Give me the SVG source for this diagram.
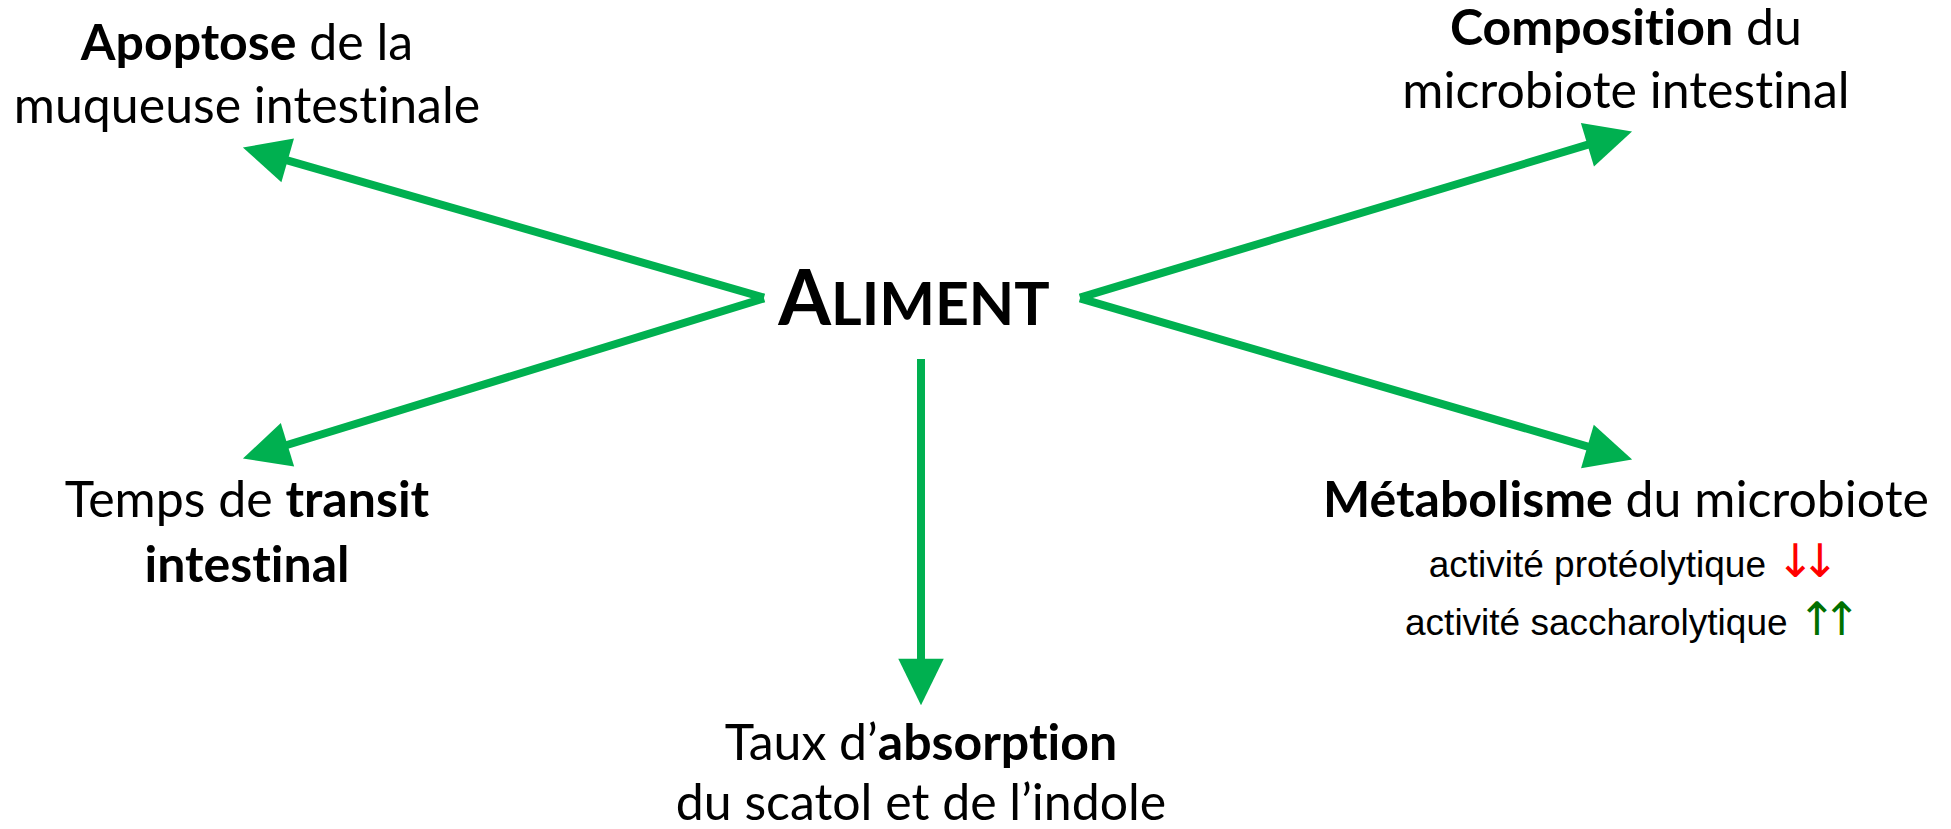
<svg xmlns="http://www.w3.org/2000/svg" width="1951" height="829" viewBox="0 0 1951 829">
<style>
.lbl{font-family:Lato,"Open Sans","Liberation Sans",sans-serif;font-size:50px;fill:#000;text-anchor:middle;font-variant-ligatures:none;font-feature-settings:"liga" 0,"clig" 0}
.b{font-weight:bold}
.sub{font-family:"Liberation Sans",Arial,sans-serif;font-size:37px;fill:#000;text-anchor:middle}
.arr{font-family:"DejaVu Sans","Liberation Sans",sans-serif;font-size:46px;letter-spacing:-14px}
.conn{stroke:#00B050;stroke-width:8;fill:none;marker-end:url(#ah)}
</style>
<defs>
<marker id="ah" markerUnits="userSpaceOnUse" markerWidth="50" markerHeight="50" viewBox="-3 -21 44 42" refX="0" refY="0" orient="auto">
<path d="M-2,-20 L39,0 L-2,20 Z" fill="#00B050"/>
</marker>
</defs>
<rect width="1951" height="829" fill="#fff"/>
<g id="connectors">
<path class="conn" d="M764,297.6 L285.5,159.8"/>
<path class="conn" d="M764,298.4 L285.3,445.5"/>
<path class="conn" d="M1080,297.6 L1589.6,144.2"/>
<path class="conn" d="M1080,298.4 L1589.6,447.1"/>
<path class="conn" d="M921,359 L921,661"/>
</g>
<g id="aliment">
<text class="lbl b" x="914" y="325"><tspan font-size="76">A</tspan><tspan font-size="59">LIMENT</tspan></text>
</g>
<g id="apoptose">
<text class="lbl" x="247" y="60"><tspan class="b">Apoptose</tspan> de la</text>
<text class="lbl" x="247" y="123">muqueuse intestinale</text>
</g>
<g id="composition">
<text class="lbl" x="1626" y="45"><tspan class="b">Composition</tspan> du</text>
<text class="lbl" x="1626" y="108">microbiote intestinal</text>
</g>
<g id="transit">
<text class="lbl" x="247" y="517">Temps de <tspan class="b">transit</tspan></text>
<text class="lbl b" x="247" y="582">intestinal</text>
</g>
<g id="absorption">
<text class="lbl" x="921" y="760">Taux d’<tspan class="b">absorption</tspan></text>
<text class="lbl" x="921" y="820">du scatol et de l’indole</text>
</g>
<g id="metabolisme">
<text class="lbl" x="1626" y="517"><tspan class="b">Métabolisme</tspan> du microbiote</text>
<text class="sub" x="1627" y="577">activité protéolytique <tspan class="arr" fill="#FF0000">↓↓</tspan></text>
<text class="sub" x="1626" y="635">activité saccharolytique <tspan class="arr" fill="#007000">↑↑</tspan></text>
</g>
</svg>
